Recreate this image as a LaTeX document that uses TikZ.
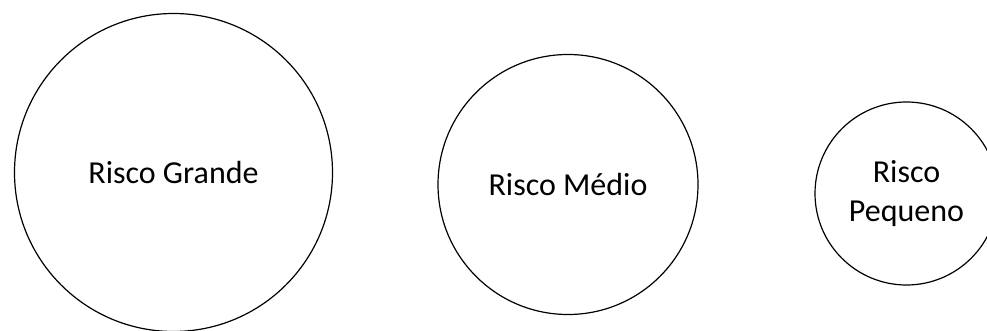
\documentclass[tikz,border=0pt]{standalone}
\usepackage{fontspec}
\setmainfont{Carlito}
\begin{document}
\begin{tikzpicture}[x=1pt,y=-1pt,
		riskcircle/.style={draw, circle, line width=1.2pt, inner sep=0pt, align=center, font=\fontsize{32}{39}\selectfont}]

		% Frame
		\useasboundingbox (0,0) rectangle (987,331);

		% Risk circles
		\node[riskcircle, minimum size=318pt] (grande) at (173.5,172.5) {Risco Grande};
		\node[riskcircle, minimum size=260pt] (medio) at (568,184.5) {Risco Médio};
		\node[riskcircle, minimum size=183pt] (pequeno) at (906.5,193.5) {Risco\\Pequeno};

	\end{tikzpicture}
\end{document}
